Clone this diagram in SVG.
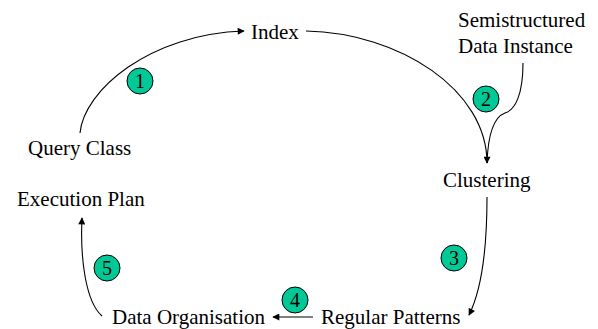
<svg xmlns="http://www.w3.org/2000/svg" width="598" height="329" viewBox="0 0 598 329">
<style>
.t{font-size:21px;fill:#000}
.c{fill:#00C896;stroke:#000;stroke-width:1}
.n{font-size:20px;text-anchor:middle;fill:#000}
.e{fill:none;stroke:#000;stroke-width:1.1}
</style>
<defs>
<marker id="ah" viewBox="0 0 10 10" refX="9" refY="5" markerWidth="8" markerHeight="7" markerUnits="userSpaceOnUse" orient="auto"><path d="M0,0 L10,5 L0,10 Z" fill="#000"/></marker>
</defs>
<rect width="598" height="329" fill="#fff"/>
<g id="connectors">
<path class="e" d="M80,133 C84,90 150,34 244,31" marker-end="url(#ah)"/>
<path class="e" d="M306,31 C400,33 487,90 487,163" marker-end="url(#ah)"/>
<path class="e" d="M523,63 C523,95 515,110 505,113 C494,117 488,135 487,163"/>
<path class="e" d="M487,197 C487,260 479,295 469,315" marker-end="url(#ah)"/>
<path class="e" d="M313,317 L273,317" marker-end="url(#ah)"/>
<path class="e" d="M102,316 C86,302 80,260 82,218" marker-end="url(#ah)"/>
</g>
<g font-family="'Liberation Serif', 'Times New Roman', Times, 'DejaVu Serif', serif">
<g id="query-class"><text class="t" x="28" y="155">Query Class</text></g>
<g id="index"><text class="t" x="251" y="39">Index</text></g>
<g id="semistructured"><text class="t" x="458" y="27">Semistructured</text><text class="t" x="458" y="53">Data Instance</text></g>
<g id="clustering"><text class="t" x="443" y="187">Clustering</text></g>
<g id="regular-patterns"><text class="t" x="321" y="324">Regular Patterns</text></g>
<g id="data-organisation"><text class="t" x="112" y="324">Data Organisation</text></g>
<g id="execution-plan"><text class="t" x="17" y="206">Execution Plan</text></g>
<g id="step1"><circle class="c" cx="140" cy="81" r="13"/><text class="n" x="140" y="88">1</text></g>
<g id="step2"><circle class="c" cx="486" cy="99" r="13"/><text class="n" x="486" y="106">2</text></g>
<g id="step3"><circle class="c" cx="454" cy="258" r="13"/><text class="n" x="454" y="265">3</text></g>
<g id="step4"><circle class="c" cx="295" cy="300" r="13"/><text class="n" x="295" y="307">4</text></g>
<g id="step5"><circle class="c" cx="107" cy="268" r="13"/><text class="n" x="107" y="275">5</text></g>
</g>
</svg>
